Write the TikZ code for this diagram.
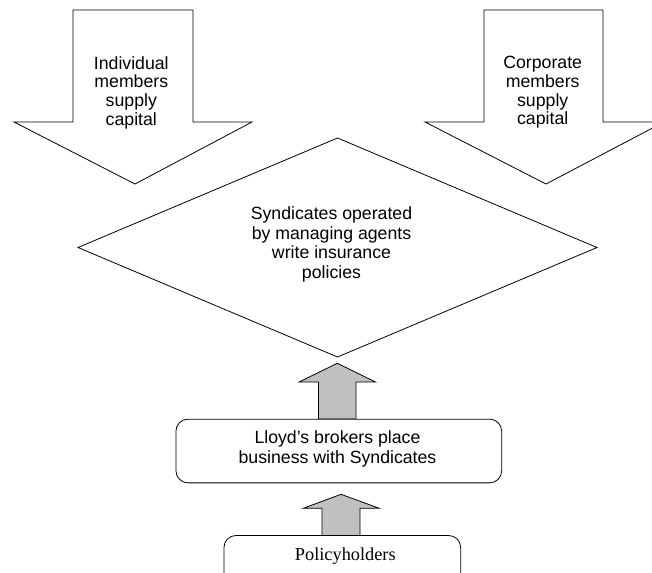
\documentclass[tikz,border=0pt]{standalone}
\usepackage{fontspec}
\setmainfont{Liberation Sans}
\newfontfamily\serifface{Liberation Serif}
\begin{document}
\begin{tikzpicture}[x=1pt,y=-1pt,
  outline/.style={draw=black,line width=0.8pt,line join=miter},
  whitearrow/.style={outline,fill=white},
  grayarrow/.style={outline,fill={rgb,255:red,192;green,192;blue,192}},
  label/.style={inner sep=0pt,align=center,font=\fontsize{17.7}{19.5}\selectfont},
  roundbox/.style={outline,fill=white,rounded corners=12pt,inner sep=0pt}]
\useasboundingbox (0,0) rectangle (652,572);
% diamond
\draw[outline,fill=white] (78,247.5) -- (337.5,138) -- (597,247.5) -- (337.5,357) -- cycle;
\node[label] (synd) at (331.5,244.5) {Syndicates operated\\by managing agents\\write insurance\\policies};
% top white arrows
\draw[whitearrow] (73,10) -- (193,10) -- (193,122) -- (252,122) -- (135,184) -- (14,122) -- (73,122) -- cycle;
\node[label,font=\fontsize{17.7}{18.7}\selectfont] (indiv) at (131.3,92.5) {Individual\\members\\supply\\capital};
\draw[whitearrow] (484,10) -- (603,10) -- (603,122) -- (664,122) -- (546,184) -- (425,122) -- (484,122) -- cycle;
\node[label,font=\fontsize{17.7}{18.7}\selectfont] (corp) at (542.7,92.5) {Corporate\\members\\supply\\capital};
% gray arrows
\draw[grayarrow] (318.5,419) -- (318.5,382) -- (299,382) -- (337.3,363.3) -- (375.5,382) -- (356,382) -- (356,419) -- cycle;
\draw[grayarrow] (322,535.5) -- (322,508.3) -- (303.3,508.3) -- (341,494.3) -- (379.3,508.3) -- (360,508.3) -- (360,535.5) -- cycle;
% boxes
\node[roundbox,minimum width=325.7pt,minimum height=63.7pt] (lloydbox) at (338.8,451) {};
\node[label] (lloyd) at (337.5,448.7) {Lloyd's brokers place\\business with Syndicates};
\node[roundbox,minimum width=236.7pt,minimum height=50pt] (polbox) at (342.3,560.5) {};
\node[inner sep=0pt,font=\serifface\fontsize{18.3}{20}\selectfont] (pol) at (345.3,555.8) {Policyholders};
\end{tikzpicture}
\end{document}
